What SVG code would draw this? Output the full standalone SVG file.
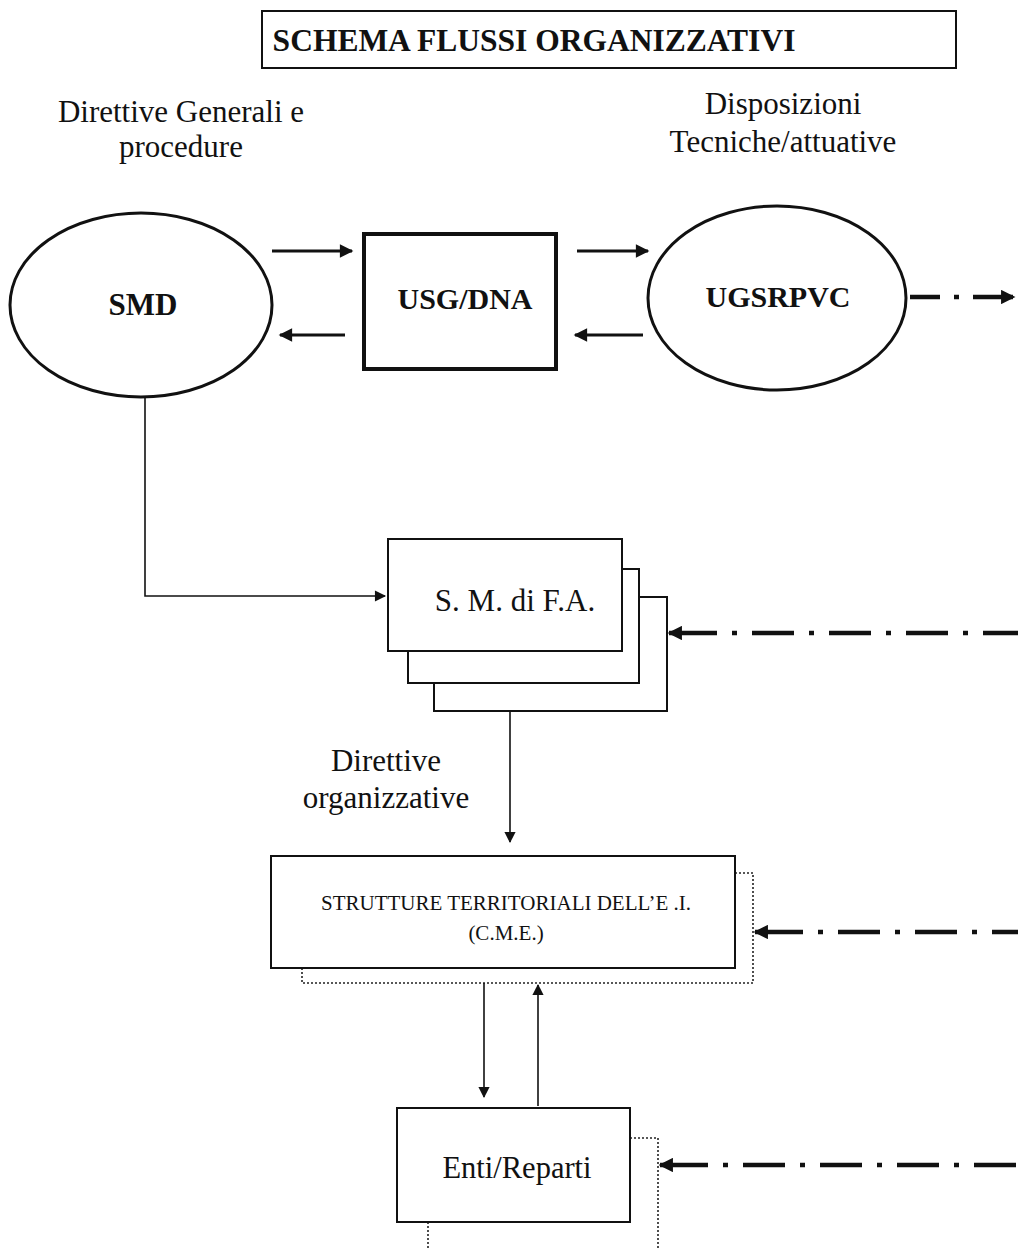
<svg xmlns="http://www.w3.org/2000/svg" width="1018" height="1250" viewBox="0 0 1018 1250">
<style>
  text { font-family: "Liberation Serif", "Times New Roman", serif; fill: #111; }
  .b { font-weight: bold; }
  .box { fill: #fff; stroke: #111; stroke-width: 2; }
  .dot { fill: none; stroke: #222; stroke-width: 1.6; stroke-dasharray: 2 2; }
  .sa { fill: none; stroke: #111; stroke-width: 3; }
  .thin { fill: none; stroke: #111; stroke-width: 1.6; }
  .dd { fill: none; stroke: #111; stroke-width: 4.5; }
</style>
<defs>
  <marker id="ah" viewBox="0 0 10 10" refX="9" refY="5" markerWidth="5" markerHeight="4.5" orient="auto-start-reverse" markerUnits="strokeWidth">
    <path d="M0,0 L10,5 L0,10 z" fill="#111"/>
  </marker>
  <marker id="ahT" viewBox="0 0 10 10" refX="9" refY="5" markerWidth="8" markerHeight="7" orient="auto-start-reverse" markerUnits="strokeWidth">
    <path d="M0,0 L10,5 L0,10 z" fill="#111"/>
  </marker>
  <marker id="ahD" viewBox="0 0 10 10" refX="9" refY="5" markerWidth="3.8" markerHeight="3.2" orient="auto-start-reverse" markerUnits="strokeWidth">
    <path d="M0,0 L10,5 L0,10 z" fill="#111"/>
  </marker>
</defs>

<g id="title">
  <rect x="262" y="11" width="694" height="57" fill="#fff" stroke="#111" stroke-width="2"/>
  <text x="534" y="51" font-size="31.5" class="b" text-anchor="middle">SCHEMA FLUSSI ORGANIZZATIVI</text>
</g>

<g id="label-direttive-generali">
  <text x="181" y="122" font-size="31" text-anchor="middle">Direttive Generali e</text>
  <text x="181" y="157" font-size="31" text-anchor="middle">procedure</text>
</g>
<g id="label-disposizioni">
  <text x="783" y="114" font-size="31" text-anchor="middle">Disposizioni</text>
  <text x="783" y="152" font-size="31" text-anchor="middle">Tecniche/attuative</text>
</g>

<g id="smd">
  <ellipse cx="141" cy="305" rx="131" ry="92" fill="#fff" stroke="#111" stroke-width="3"/>
  <text x="143" y="315" font-size="31" class="b" text-anchor="middle">SMD</text>
</g>

<g id="usg-dna">
  <rect x="364" y="234" width="192" height="135" fill="#fff" stroke="#111" stroke-width="4"/>
  <text x="465" y="309" font-size="30" class="b" text-anchor="middle">USG/DNA</text>
</g>

<g id="ugsrpvc">
  <ellipse cx="777" cy="298" rx="129" ry="92" fill="#fff" stroke="#111" stroke-width="3"/>
  <text x="778" y="307" font-size="30" class="b" text-anchor="middle">UGSRPVC</text>
</g>

<g id="sm-fa">
  <rect x="434" y="597" width="233" height="114" class="box"/>
  <rect x="408" y="569" width="231" height="114" class="box"/>
  <rect x="388" y="539" width="234" height="112" class="box"/>
  <text x="515" y="611" font-size="31" text-anchor="middle">S. M. di F.A.</text>
</g>

<g id="label-direttive-org">
  <text x="386" y="771" font-size="31" text-anchor="middle">Direttive</text>
  <text x="386" y="808" font-size="31" text-anchor="middle">organizzative</text>
</g>

<g id="strutture">
  <path d="M302,968 V983 H753 V873 H735" class="dot"/>
  <rect x="271" y="856" width="464" height="112" class="box"/>
  <text x="506" y="910" font-size="21" text-anchor="middle">STRUTTURE TERRITORIALI DELL’E .I.</text>
  <text x="506" y="940" font-size="21" text-anchor="middle">(C.M.E.)</text>
</g>

<g id="enti">
  <path d="M428,1222 V1250 M630,1138 H658 V1250" class="dot"/>
  <rect x="397" y="1108" width="233" height="114" class="box"/>
  <text x="517" y="1178" font-size="30.5" text-anchor="middle">Enti/Reparti</text>
</g>

<g id="connectors">
  <line x1="272" y1="251" x2="352" y2="251" class="sa" marker-end="url(#ah)"/>
  <line x1="345" y1="335" x2="280" y2="335" class="sa" marker-end="url(#ah)"/>
  <line x1="577" y1="251" x2="648" y2="251" class="sa" marker-end="url(#ah)"/>
  <line x1="643" y1="335" x2="575" y2="335" class="sa" marker-end="url(#ah)"/>
  <path d="M145,397 V596 H385" class="thin" marker-end="url(#ahT)"/>
  <line x1="510" y1="711" x2="510" y2="842" class="thin" marker-end="url(#ahT)"/>
  <line x1="484" y1="983" x2="484" y2="1097" class="thin" marker-end="url(#ahT)"/>
  <line x1="538" y1="1106" x2="538" y2="985" class="thin" marker-end="url(#ahT)"/>
  <line x1="910" y1="297" x2="1014" y2="297" class="dd" stroke-dasharray="30 14 5 14 40" marker-end="url(#ahD)"/>
  <line x1="669" y1="633" x2="1018" y2="633" class="dd" stroke-dasharray="48 15 5 15 42 15 5 15 42 15 5 15 42 15 5 15 42 15 5 15" marker-start="url(#ahD)"/>
  <line x1="755" y1="932" x2="1018" y2="932" class="dd" stroke-dasharray="48 15 5 15 42 15 5 15 42 15 5 15 42 15 5 15" marker-start="url(#ahD)"/>
  <line x1="660" y1="1165" x2="1018" y2="1165" class="dd" stroke-dasharray="48 15 5 15 42 15 5 15 42 15 5 15 42 15 5 15 42 15 5 15" marker-start="url(#ahD)"/>
</g>
</svg>
